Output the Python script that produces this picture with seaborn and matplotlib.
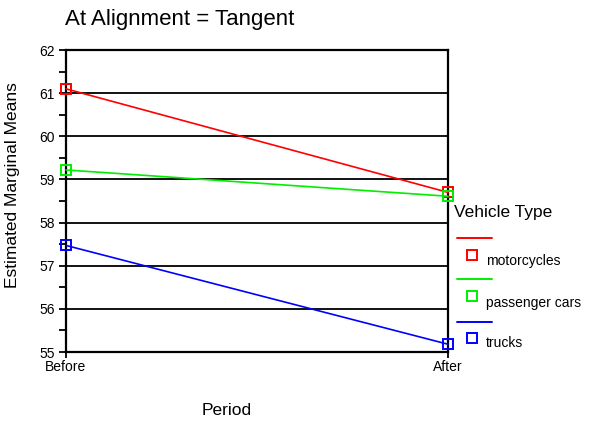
import matplotlib
matplotlib.use("Agg")
import matplotlib.pyplot as plt
from matplotlib.lines import Line2D
from matplotlib.ticker import MultipleLocator
import seaborn as sns
import pandas as pd

# Data
periods = ["Before", "After"]
vehicles = ["motorcycles", "passenger cars", "trucks"]
motorcycles = [61.1, 58.7]
passenger_cars = [59.22, 58.61]
trucks = [57.47, 55.18]
colors = ["#ff0000", "#00ee00", "#0000ff"]

rows = []
for name, vals in zip(vehicles, [motorcycles, passenger_cars, trucks]):
    for p, v in zip(periods, vals):
        rows.append({"Period": p, "Vehicle Type": name, "Mean": v})
df = pd.DataFrame(rows)

sns.set_style("white")
plt.rcParams["font.family"] = ["Liberation Sans", "DejaVu Sans"]
plt.rcParams["text.color"] = "black"
plt.rcParams["xtick.color"] = "black"
plt.rcParams["ytick.color"] = "black"

fig = plt.figure(figsize=(5.89, 4.23), dpi=100)
ax = fig.add_axes([66 / 589, 1 - 352 / 423, (448 - 66) / 589, (352 - 50) / 423])

sns.lineplot(data=df, x="Period", y="Mean", hue="Vehicle Type", palette=colors,
             marker="s", markersize=7.5, markerfacecolor="none", markeredgewidth=1.4,
             linewidth=1.2, legend=False, ax=ax, clip_on=False, zorder=5)
for ln, c in zip(ax.lines, colors):
    ln.set_markeredgecolor(c)

ax.set_xlim(0, 1)
ax.set_ylim(55, 62)
ax.set_xticks([0, 1])
ax.set_xticklabels(periods)
ax.yaxis.set_major_locator(MultipleLocator(1))
ax.yaxis.set_minor_locator(MultipleLocator(0.5))
ax.grid(axis="y", color="black", linewidth=1.3)
ax.set_axisbelow(True)
for s in ax.spines.values():
    s.set_color("black")
    s.set_linewidth(1.6)
ax.tick_params(axis="y", which="both", direction="out", length=5, width=1.3,
               color="black", labelcolor="black", labelsize=10, pad=3, left=True)
ax.tick_params(axis="x", direction="out", length=4, width=1.3, color="black",
               labelcolor="black", labelsize=10, pad=2, bottom=True)
ax.set_xlabel("")
ax.set_ylabel("")

fig.text(65 / 589, 1 - 20 / 423, "At Alignment = Tangent", fontsize=16,
         ha="left", va="center")
fig.text(227 / 589, 1 - 410 / 423, "Period", fontsize=12.5, ha="center", va="center")
fig.text(13 / 589, 1 - 185 / 423, "Estimated Marginal Means", fontsize=12.5,
         rotation=90, ha="center", va="center")

# legend, drawn the way the original shows it
fig.text(454 / 589, 1 - 213 / 423, "Vehicle Type", fontsize=12.5, ha="left", va="center")
line_y = [238, 279, 322]
mark_y = [255, 296, 338]
lab_y = [261, 303, 343]
for name, c, ly, my, ty in zip(vehicles, colors, line_y, mark_y, lab_y):
    fig.add_artist(Line2D([457 / 589, 492 / 589], [1 - ly / 423, 1 - ly / 423],
                          color=c, linewidth=1.4))
    fig.add_artist(Line2D([472 / 589], [1 - my / 423], marker="s", markersize=7.5,
                          markerfacecolor="none", markeredgecolor=c,
                          markeredgewidth=1.4, linestyle="none"))
    fig.text(486 / 589, 1 - ty / 423, name, fontsize=10, ha="left", va="center")

fig.savefig("out.png", dpi=100)
